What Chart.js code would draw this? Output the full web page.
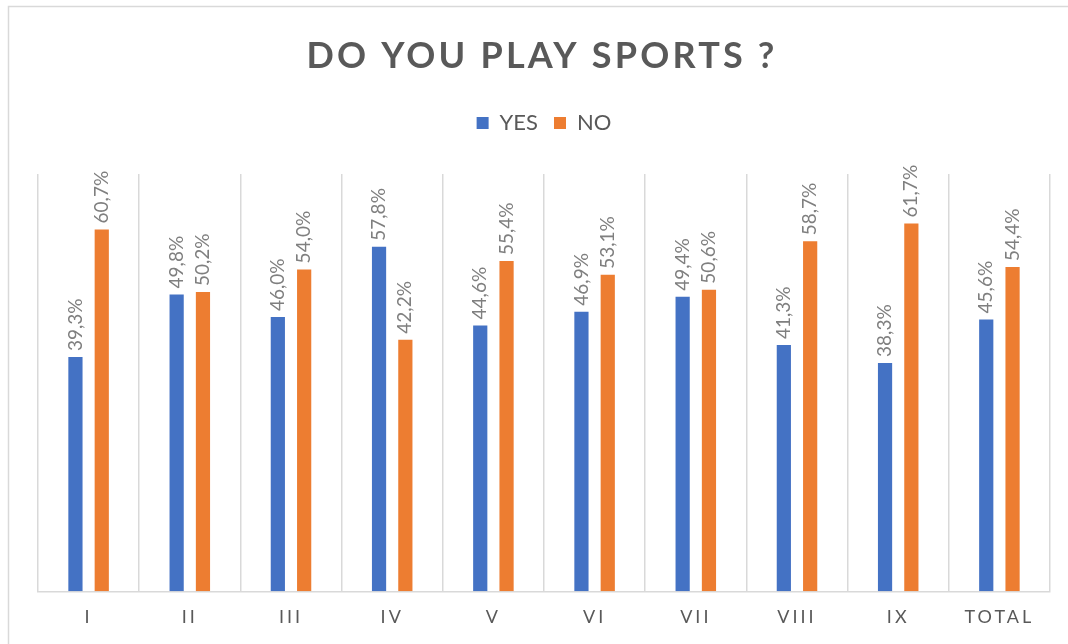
<!DOCTYPE html>
<html>
<head>
<meta charset="utf-8">
<script src="https://cdn.jsdelivr.net/npm/chart.js@4.4.1/dist/chart.umd.min.js"></script>
<style>
  html, body { margin: 0; padding: 0; background: #fff; }
  #wrap { position: relative; width: 1068px; height: 644px; }
</style>
</head>
<body>
<div id="wrap"><canvas id="main-chart" width="1068" height="644"></canvas></div>
<script>
// data
var categories = ['I', 'II', 'III', 'IV', 'V', 'VI', 'VII', 'VIII', 'IX', 'TOTAL'];
var yesValues = [39.3, 49.8, 46.0, 57.8, 44.6, 46.9, 49.4, 41.3, 38.3, 45.6];
var noValues = [60.7, 50.2, 54.0, 42.2, 55.4, 53.1, 50.6, 58.7, 61.7, 54.4];
var seriesNames = ['YES', 'NO'];
var chartTitle = 'DO YOU PLAY SPORTS ?';

var FONT = 'Lato, "Open Sans", sans-serif';

// frame, title, rotated value labels and spaced tick labels
var decor = {
	id: 'decor',
	beforeInit: function(chart) {
		// push the plot area down below the legend
		var fit = chart.legend.fit;
		chart.legend.fit = function() {
			fit.call(this);
			this.height += 30;
		};
	},
	beforeDraw: function(chart) {
		var ctx = chart.ctx;
		ctx.save();
		ctx.strokeStyle = '#d9d9d9';
		ctx.lineWidth = 1.5;
		ctx.strokeRect(8.5, 6.5, 1200, 800);
		ctx.fillStyle = '#595959';
		ctx.font = 'bold 36px ' + FONT;
		ctx.letterSpacing = '3.2px';
		ctx.textAlign = 'center';
		ctx.textBaseline = 'middle';
		ctx.fillText(chartTitle, 542, 56);
		ctx.restore();
	},
	afterDatasetsDraw: function(chart) {
		var ctx = chart.ctx;
		ctx.save();
		ctx.fillStyle = '#7f7f7f';
		ctx.font = '19px ' + FONT;
		ctx.textAlign = 'left';
		ctx.textBaseline = 'middle';
		chart.data.datasets.forEach(function(ds, i) {
			chart.getDatasetMeta(i).data.forEach(function(bar, j) {
				var txt = ds.data[j].toFixed(1).replace('.', ',') + '%';
				ctx.save();
				ctx.translate(bar.x, bar.y - 6);
				ctx.rotate(-Math.PI / 2);
				ctx.fillText(txt, 0, 0);
				ctx.restore();
			});
		});
		ctx.restore();
		// tick labels (z = 1) come after this, give them spacing
		ctx.letterSpacing = '3px';
	},
	afterDraw: function(chart) {
		chart.ctx.letterSpacing = '0px';
	}
};

var ctx = document.getElementById('main-chart');
var chart = new Chart(ctx, {
	type: 'bar',
	data: {
		labels: categories,
		datasets: [
			{ label: seriesNames[0], data: yesValues, backgroundColor: '#4472c4' },
			{ label: seriesNames[1], data: noValues, backgroundColor: '#ed7d31' }
		]
	},
	options: {
		responsive: false,
		animation: false,
		devicePixelRatio: 1,
		layout: { padding: { left: 38, right: 18, top: 96, bottom: 0 } },
		datasets: {
			bar: { categoryPercentage: 0.52, barPercentage: 0.54 }
		},
		plugins: {
			tooltip: { enabled: false },
			title: { display: false },
			legend: {
				position: 'top',
				labels: {
					boxWidth: 12,
					boxHeight: 12,
					padding: 16,
					color: '#595959',
					font: { family: FONT, size: 22 }
				}
			}
		},
		scales: {
			x: {
				grid: { color: '#d9d9d9', lineWidth: 1.5, drawTicks: false },
				border: { color: '#d9d9d9', width: 1.5 },
				ticks: {
					z: 1,
					padding: 16,
					color: '#595959',
					font: { family: FONT, size: 18, lineHeight: 1.15 }
				}
			},
			y: {
				display: false,
				min: 0,
				max: 70
			}
		}
	},
	plugins: [decor]
});
</script>
</body>
</html>
